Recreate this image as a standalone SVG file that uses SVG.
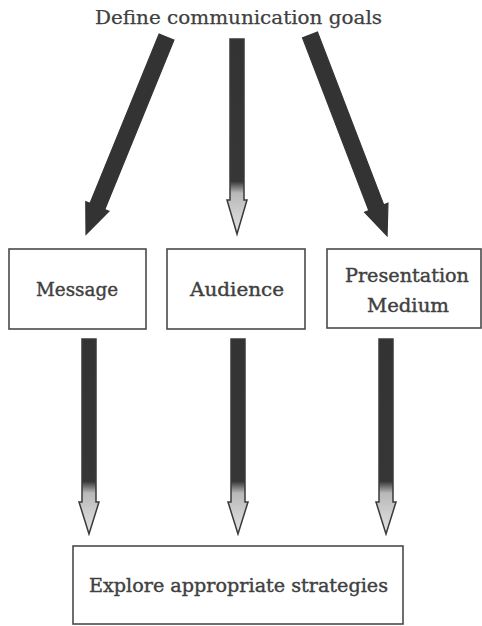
<svg xmlns="http://www.w3.org/2000/svg" width="482" height="626" viewBox="0 0 482 626">
  <defs>
    <style>
      .lbl { font-family: "DejaVu Serif", "Liberation Serif", serif; font-size: 19px; fill: #404040; stroke: #404040; stroke-width: 0.4; text-anchor: middle; }
      .top { font-size: 18.5px; stroke-width: 0.25; }
      .box { fill: #ffffff; stroke: #4a4a4a; stroke-width: 1.6; }
      .dark { fill: #333333; stroke: #333333; stroke-width: 1.2; stroke-linejoin: miter; }
      .grad { fill: url(#shade); stroke: #3a3a3a; stroke-width: 1.5; stroke-linejoin: miter; }
    </style>
    <linearGradient id="shade" x1="0" y1="0" x2="0" y2="1">
      <stop offset="0" stop-color="#333333"/>
      <stop offset="0.73" stop-color="#363636"/>
      <stop offset="0.79" stop-color="#b8b8b8"/>
      <stop offset="0.9" stop-color="#d0d0d0"/>
      <stop offset="1" stop-color="#e0e0e0"/>
    </linearGradient>
  </defs>
  <rect width="482" height="626" fill="#ffffff"/>

  <g id="connectors">
    <g transform="translate(166.5,37) rotate(22.2)">
      <path class="dark" d="M-8,0 H8 V183 H12.5 L0,213 L-12.5,183 H-8 Z"/>
    </g>
    <path class="grad" d="M230,39 H244 V200 H247 L237,234 L227,200 H230 Z"/>
    <g transform="translate(310,35) rotate(-21)">
      <path class="dark" d="M-8,0 H8 V185 H12.5 L0,215 L-12.5,185 H-8 Z"/>
    </g>
    <path class="grad" d="M82,339 H96 V502 H99 L89,534 L79,502 H82 Z"/>
    <path class="grad" d="M231,339 H245 V502 H248 L238,534 L228,502 H231 Z"/>
    <path class="grad" d="M379,339 H393 V502 H396 L386,534 L376,502 H379 Z"/>
  </g>

  <g id="goals">
    <text class="lbl top" x="238.5" y="24" textLength="287" lengthAdjust="spacingAndGlyphs">Define communication goals</text>
  </g>
  <g id="message">
    <rect class="box" x="9" y="249" width="137" height="80"/>
    <text class="lbl" x="77" y="296" textLength="82" lengthAdjust="spacingAndGlyphs">Message</text>
  </g>
  <g id="audience">
    <rect class="box" x="167" y="249" width="138" height="80"/>
    <text class="lbl" x="237" y="296" textLength="94" lengthAdjust="spacingAndGlyphs">Audience</text>
  </g>
  <g id="medium">
    <rect class="box" x="327" y="249" width="154" height="79"/>
    <text class="lbl" x="407" y="282" textLength="124" lengthAdjust="spacingAndGlyphs">Presentation</text>
    <text class="lbl" x="408" y="312" textLength="82" lengthAdjust="spacingAndGlyphs">Medium</text>
  </g>
  <g id="strategies">
    <rect class="box" x="73" y="546" width="330" height="78"/>
    <text class="lbl" x="238.5" y="592" textLength="299" lengthAdjust="spacingAndGlyphs">Explore appropriate strategies</text>
  </g>
</svg>
